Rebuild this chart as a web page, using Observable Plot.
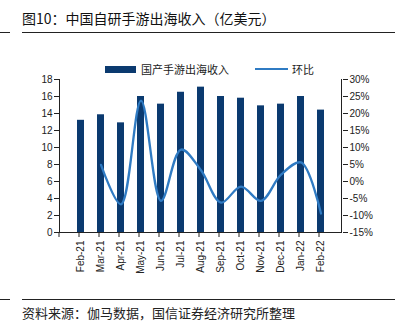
<!DOCTYPE html>
<html><head><meta charset="utf-8">
<script src="https://cdn.jsdelivr.net/npm/d3@7"></script>
<script src="https://cdn.jsdelivr.net/npm/@observablehq/plot@0.6"></script>
<style>
body{margin:0;background:#fff;font-family:"Liberation Sans",Arial,"Noto Sans CJK SC",sans-serif;}
#wrap{position:relative;width:400px;height:325px;overflow:hidden;}
.title{position:absolute;left:22px;top:8px;font-size:14px;color:#111;font-family:"Noto Sans CJK SC",sans-serif;}
.hr{position:absolute;height:1px;background:#222;}
.src{position:absolute;left:22px;top:303px;font-size:13px;color:#222;font-family:"Noto Sans CJK SC",sans-serif;}
#chart{position:absolute;left:0;top:40px;}
.leg{position:absolute;top:61px;font-size:11px;color:#222;font-family:"Noto Sans CJK SC",sans-serif;display:flex;align-items:center;}
</style></head>
<body><div id="wrap">
<div class="title">图10：中国自研手游出海收入（亿美元）</div>
<div class="hr" style="left:0;width:10px;top:32px"></div>
<div class="hr" style="left:22px;width:373px;top:32px"></div>
<div id="chart"></div>
<div class="leg" style="left:105px"><span style="display:inline-block;width:31px;height:7px;background:#0b3a6f;margin-right:5px"></span>国产手游出海收入</div>
<div class="leg" style="left:255px"><span style="display:inline-block;width:33px;height:2.5px;background:#2f7bc3;margin-right:4px"></span>环比</div>
<div class="hr" style="left:0;width:10px;top:299px"></div>
<div class="hr" style="left:22px;width:373px;top:299px"></div>
<div class="src">资料来源：伽马数据，国信证券经济研究所整理</div>
</div>
<script>
const months = ["Feb-21","Mar-21","Apr-21","May-21","Jun-21","Jul-21","Aug-21","Sep-21","Oct-21","Nov-21","Dec-21","Jan-22","Feb-22"];
const revenue = [13.2,13.85,12.9,16.0,15.1,16.5,17.1,16.0,15.8,14.9,15.1,16.0,14.4];
const mom = [null,4.9,-6.7,23.8,-5.7,9.4,3.3,-6.2,-1.5,-5.7,2.0,5.6,-9.4];
const leftTicks = [0,2,4,6,8,10,12,14,16,18];
const rightTicks = [-15,-10,-5,0,5,10,15,20,25,30];

const toY = p => (p + 15) / 45 * 18;
const barData = months.map((m,i)=>({m, v: revenue[i]}));
const lineData = months.map((m,i)=>({m, p: mom[i]})).filter(d=>d.p!==null);

const plot = Plot.plot({
  width: 400, height: 250,
  marginTop: 39, marginBottom: 58, marginLeft: 59, marginRight: 58,
  style: {fontFamily: '"Liberation Sans", Arial, sans-serif', fontSize: "10px", color: "#222"},
  x: {domain: months, padding: 0.67, label: null},
  y: {domain: [0,18], label: null},
  marks: [
    Plot.barY(barData, {x: "m", y: "v", fill: "#0b3a6f"}),
    Plot.line(lineData, {x: "m", y: d => toY(d.p), stroke: "#2f7bc3", strokeWidth: 2.3, curve: "catmull-rom"}),
    Plot.axisY({anchor: "left", ticks: leftTicks, tickSize: 5, tickPadding: 2, label: null}),
    Plot.axisY({anchor: "right", ticks: rightTicks.map(toY), tickFormat: v => Math.round(v*45/18 - 15) + "%", tickSize: 5, tickPadding: 2, label: null}),
    Plot.axisX({tickSize: 0, tickRotate: -90, tickPadding: 8, label: null})
  ]
});
document.getElementById("chart").appendChild(plot);

// axis lines and boundary ticks via scales
const xs = plot.scale("x"), ys = plot.scale("y");
const svg = d3.select(plot);
const [x0, x1] = xs.range;
const yb = ys.range[0], yt = ys.range[1];
const g = svg.append("g").attr("stroke", "#222").attr("stroke-width", 1);
g.append("line").attr("x1", x0).attr("x2", x1).attr("y1", yb+0.5).attr("y2", yb+0.5);
g.append("line").attr("x1", x0+0.5).attr("x2", x0+0.5).attr("y1", yt).attr("y2", yb);
g.append("line").attr("x1", x1-0.5).attr("x2", x1-0.5).attr("y1", yt).attr("y2", yb);
for (let i = 0; i <= months.length; i++) {
  const x = x0 + i * xs.step;
  g.append("line").attr("x1", x).attr("x2", x).attr("y1", yb).attr("y2", yb+5);
}
</script>
</body></html>
